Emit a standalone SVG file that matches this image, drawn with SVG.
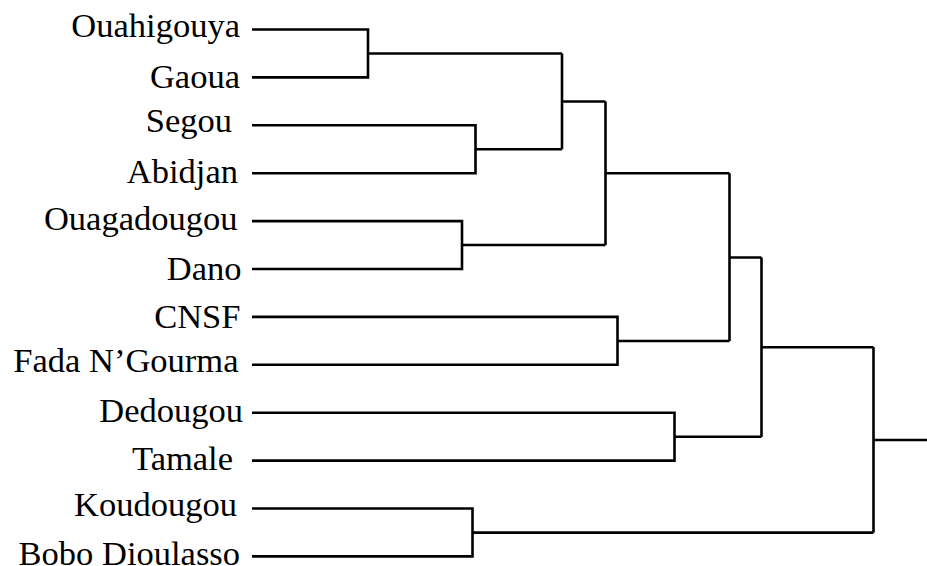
<svg xmlns="http://www.w3.org/2000/svg" width="927" height="566" viewBox="0 0 927 566">
<style>
text{font-family:"Liberation Serif","Times New Roman",serif;font-size:34.5px;fill:#000;text-anchor:end}
.c path{fill:none;stroke:#000;stroke-width:2.6;stroke-linejoin:miter;stroke-linecap:butt}
</style>
<rect width="927" height="566" fill="#fff"/>
<g id="leaf-ouahigouya"><text x="240" y="36.5">Ouahigouya</text></g>
<g id="leaf-gaoua"><text x="240" y="87.5">Gaoua</text></g>
<g id="leaf-segou"><text x="232" y="132">Segou</text></g>
<g id="leaf-abidjan"><text x="238" y="183">Abidjan</text></g>
<g id="leaf-ouagadougou"><text x="237.5" y="230">Ouagadougou</text></g>
<g id="leaf-dano"><text x="241.5" y="280">Dano</text></g>
<g id="leaf-cnsf"><text x="240.5" y="328">CNSF</text></g>
<g id="leaf-fada"><text x="238.5" y="372">Fada N’Gourma</text></g>
<g id="leaf-dedougou"><text x="243" y="422">Dedougou</text></g>
<g id="leaf-tamale"><text x="233" y="470">Tamale</text></g>
<g id="leaf-koudougou"><text x="237" y="515.5">Koudougou</text></g>
<g id="leaf-bobo"><text x="240" y="565">Bobo Dioulasso</text></g>
<g class="c" id="connectors">
<path d="M252,29.5 H368 V77.4 H252"/>
<path d="M368,53.5 H562"/>
<path d="M252,125.3 H475.5 V173.2 H252"/>
<path d="M475.5,149.3 H562"/>
<path d="M562,53.5 V149.3"/>
<path d="M562,101.5 H605.5"/>
<path d="M252,221.1 H462 V269 H252"/>
<path d="M462,245 H605.5"/>
<path d="M605.5,101.5 V245"/>
<path d="M605.5,173.3 H729.5"/>
<path d="M252,316.9 H617.5 V364.8 H252"/>
<path d="M617.5,341 H729.5"/>
<path d="M729.5,173.3 V341"/>
<path d="M729.5,257.5 H761.5"/>
<path d="M252,412.7 H674.5 V460.6 H252"/>
<path d="M674.5,436.8 H761.5"/>
<path d="M761.5,257.5 V436.8"/>
<path d="M761.5,347.2 H873.5"/>
<path d="M252,508.5 H472.5 V556.4 H252"/>
<path d="M472.5,532.6 H873.5"/>
<path d="M873.5,347.2 V532.6"/>
<path d="M873.5,440 H927"/>
</g>
</svg>
